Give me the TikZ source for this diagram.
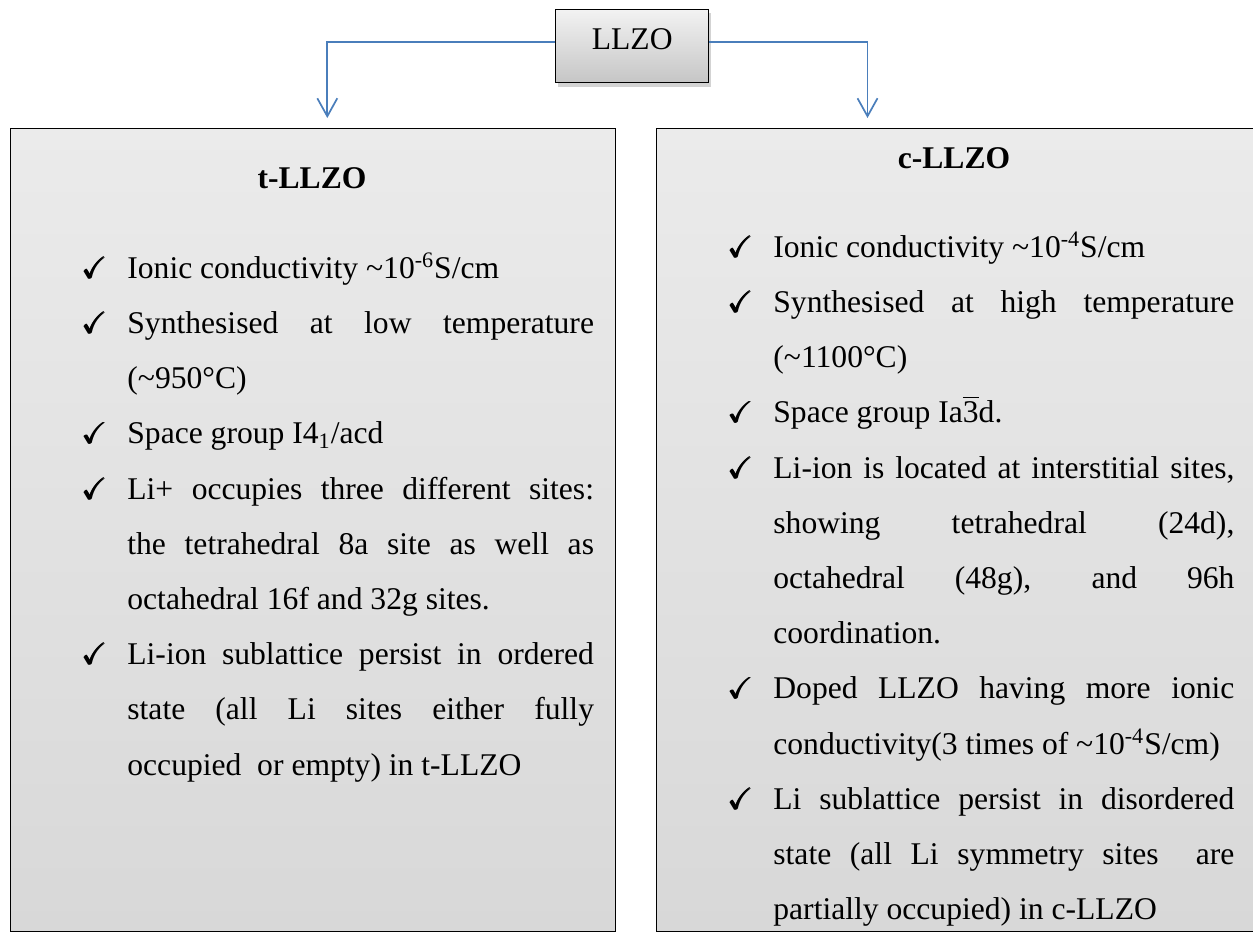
\documentclass[tikz,border=0pt]{standalone}
\usepackage{amsmath,amssymb}
\usepackage{fontspec}
\setmainfont{Liberation Serif}
\usepackage{tikz}
\usepackage{xcolor}
\usetikzlibrary{arrows.meta,shadows}

\definecolor{linkblue}{HTML}{4A7EBB}
\definecolor{paneltop}{HTML}{EBEBEB}
\definecolor{panelbottom}{HTML}{D8D8D8}

\newcommand{\checkitem}{\makebox[0pt][l]{\fontsize{15}{15}\selectfont$\pmb{\checkmark}$}}
\newenvironment{checklist}{\begin{list}{\checkitem}{%
  \setlength{\leftmargin}{22.5pt}\setlength{\labelwidth}{0pt}%
  \setlength{\labelsep}{22.5pt}\setlength{\itemsep}{0pt}%
  \setlength{\parsep}{0pt}\setlength{\topsep}{0pt}\setlength{\partopsep}{0pt}}%
  \tolerance=10000\hyphenpenalty=10000}{\end{list}}

\tikzset{
  rootbox/.style={draw=black,line width=0.7pt,top color=gray!10,bottom color=gray!45,
    minimum width=76.5pt,text height=20pt,text depth=16.7pt,inner ysep=0pt,
    drop shadow={shadow xshift=1pt,shadow yshift=-2pt,opacity=.35}},
  panel/.style={draw=black,line width=0.7pt,top color=paneltop,bottom color=panelbottom,
    anchor=north west,minimum height=401.4pt,inner sep=0pt},
  paneltitle/.style={anchor=base,font=\fontsize{15.8}{27.6}\selectfont\bfseries},
  pointlist/.style={anchor=base west,inner sep=0pt,align=justify},
  link/.style={linkblue,line width=0.85pt,-{Straight Barb[length=9pt,width=10pt]}}
}

\begin{document}
\begin{tikzpicture}[x=0.5pt,y=0.5pt,every node/.style={font=\fontsize{15.8}{27.6}\selectfont}]
\useasboundingbox (0,0) rectangle (1253,-932);
\node[panel,minimum width=302.5pt] (tbox) at (10,-127.7) {};
\node[panel,minimum width=303pt] (cbox) at (656,-127.7) {};
\node[rootbox] (llzo) at (632.2,-46) {LLZO};
\coordinate (tin) at (327.3,-118);
\coordinate (cin) at (867.5,-118);
\draw[link] ([yshift=2.15pt]llzo.west) -| (tin);
\draw[link] ([yshift=2.15pt]llzo.east) -| (cin);
\node[paneltitle] (ttitle) at (312,-188) {t-LLZO};
\node[paneltitle] (ctitle) at (954,-168) {c-LLZO};
\node[pointlist,text width=255.8pt] (tlist) at (82,-223) {%
\begin{checklist}
\item Ionic conductivity \textasciitilde10\textsuperscript{-6}S/cm
\item Synthesised at low temperature \linebreak (\textasciitilde950°C)
\item Space group I4\textsubscript{1}/acd
\item Li+ occupies three different sites: \linebreak the tetrahedral 8a site as well as \linebreak octahedral 16f and 32g sites.
\item Li-ion sublattice persist in ordered \linebreak state (all Li sites either fully \linebreak occupied\ \ or empty) in t-LLZO
\end{checklist}};
\node[pointlist,text width=253pt] (clist) at (728,-202) {%
\begin{checklist}
\item Ionic conductivity \textasciitilde10\textsuperscript{-4}S/cm
\item Synthesised at high temperature \linebreak (\textasciitilde1100°C)
\item Space group Ia$\overline{\mbox{3}}$d.
\item Li-ion is located at interstitial sites, \linebreak showing tetrahedral (24d), \linebreak octahedral (48g), and 96h \linebreak coordination.
\item Doped LLZO having more ionic \linebreak conductivity(3 times of \textasciitilde10\textsuperscript{-4}S/cm)
\item Li sublattice persist in disordered \linebreak state (all Li symmetry sites\ \ are \linebreak partially occupied) in c-LLZO
\end{checklist}};
\end{tikzpicture}
\end{document}
